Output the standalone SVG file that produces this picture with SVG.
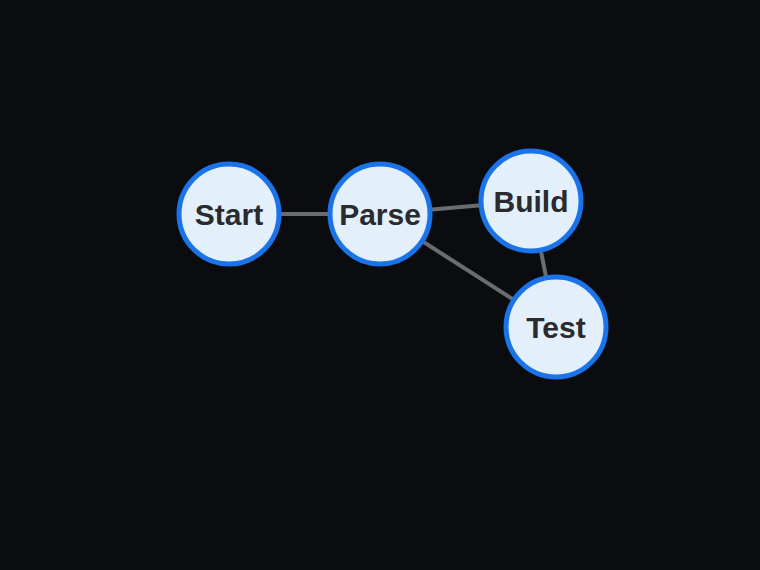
<svg xmlns="http://www.w3.org/2000/svg" width="760" height="570" viewBox="0 0 760 570">
<style>
.node circle{fill:#e3effb;stroke:#1a73e8;stroke-width:5}
.node text{font-family:"Liberation Sans",Arial,sans-serif;font-weight:bold;font-size:30px;fill:#2a2b2e;text-anchor:middle;dominant-baseline:central}
.edges line{stroke:#6b6c70;stroke-width:4}
</style>
<rect width="760" height="570" fill="#0b0c10"/>
<g class="edges">
<line x1="229" y1="214" x2="380" y2="214"/>
<line x1="380" y1="214" x2="531" y2="201"/>
<line x1="380" y1="214" x2="556" y2="327"/>
<line x1="531" y1="201" x2="556" y2="327"/>
</g>
<g id="start" class="node"><circle cx="229" cy="214" r="50"/><text x="229" y="214">Start</text></g>
<g id="parse" class="node"><circle cx="380" cy="214" r="50"/><text x="380" y="214">Parse</text></g>
<g id="build" class="node"><circle cx="531" cy="201" r="50"/><text x="531" y="201">Build</text></g>
<g id="test" class="node"><circle cx="556" cy="327" r="50"/><text x="556" y="327">Test</text></g>
</svg>
